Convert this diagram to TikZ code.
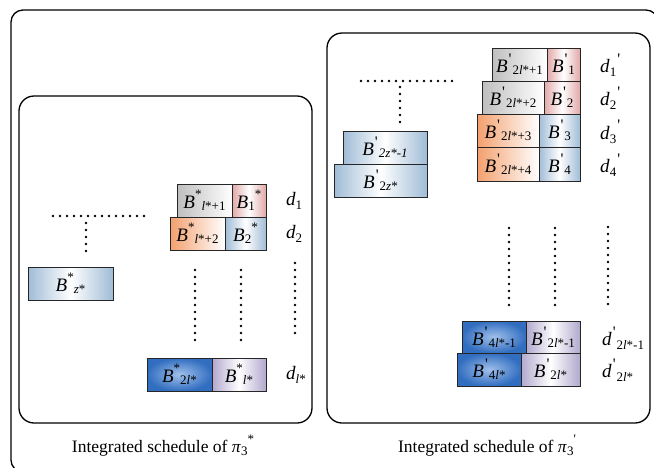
\documentclass[tikz,border=0pt]{standalone}
\usepackage{fontspec}
\setmainfont{Liberation Serif}
\definecolor{cgray}{RGB}{190,190,190}
\definecolor{cpink}{RGB}{226,168,168}
\definecolor{corange}{RGB}{243,160,110}
\definecolor{cblue}{RGB}{160,188,214}
\definecolor{cdeep}{RGB}{50,110,192}
\definecolor{cdeepin}{RGB}{160,192,235}
\definecolor{clav}{RGB}{178,168,205}
\newcommand{\mysp}[1]{\raisebox{0.5em}{\fontsize{13}{13}\selectfont #1}}
\newcommand{\mysb}[1]{\raisebox{-0.12em}{\fontsize{13}{13}\selectfont #1}}
\newcommand{\dsb}[1]{\raisebox{-0.22em}{\fontsize{13}{13}\selectfont #1}}
\newcommand{\pr}{\kern1pt\raisebox{-0.1em}{\fontsize{16}{16}\selectfont\textquotesingle}\kern1pt}
\newcommand{\bx}[7]{\node[bx,#6,minimum width={#4pt-#2pt},minimum height={#5pt-#3pt}] (#1) at ({(#2+#4)/2},{(#3+#5)/2}) {#7};}
\tikzset{
  bx/.style={draw=black!85, line width=0.8pt, inner sep=0pt, outer sep=0pt, font=\fontsize{19}{20}\selectfont},
  sgray/.style={left color=cgray, right color=white},
  spink/.style={left color=cpink, right color=cpink, middle color=white},
  sorange/.style={left color=corange, right color=white},
  sblue/.style={left color=cblue, right color=cblue, middle color=white},
  sdeep/.style={inner color=cdeepin, outer color=cdeep},
  slav/.style={left color=clav, right color=clav, middle color=white},
  panel/.style={draw=black, line width=1.3pt, rounded corners=15pt},
  dotline/.style={line width=2.8pt, line cap=round, dash pattern=on 0pt off 7pt},
  dlab/.style={anchor=west, inner sep=0pt, font=\fontsize{19}{20}\selectfont},
  captext/.style={anchor=base, inner sep=0pt, font=\fontsize{17.5}{18}\selectfont}
}
\begin{document}
\begin{tikzpicture}[x=1pt,y=-1pt]
\useasboundingbox (0,0) rectangle (654,467);
\begin{scope}
\clip (0,0) rectangle (654,467);
\draw[line width=1.3pt, rounded corners=12pt] (11,10) rectangle (658,472);
\end{scope}
\draw[panel] (19,96) rectangle (312,423);
\draw[panel] (327,33) rectangle (650,423);
% left panel boxes
\bx{la1}{177}{184}{232}{217}{sgray}{\textit{B}\mysp{*}\mysb{\textit{l}*+1}}
\bx{lb1}{232}{184}{266}{217}{spink}{\textit{B}\mysb{1}\mysp{*}}
\bx{la2}{170}{217}{225}{250}{sorange}{\textit{B}\mysp{*}\mysb{\textit{l}*+2}}
\bx{lb2}{225}{217}{266}{250}{sblue}{\textit{B}\mysb{2}\mysp{*}}
\bx{lz}{28}{267}{113}{300}{sblue}{\textit{B}\mysp{*}\mysb{\textit{z}*}}
\bx{lan}{147}{358}{212}{391}{sdeep}{\textit{B}\mysp{*}\mysb{2\textit{l}*}}
\bx{lbn}{212}{358}{266}{391}{slav}{\textit{B}\mysp{*}\mysb{\textit{l}*}}
\node[dlab] (d1) at (286,201) {\textit{d}\dsb{1}};
\node[dlab] (d2) at (286,234) {\textit{d}\dsb{2}};
\node[dlab] (dn) at (286,375) {\textit{d}\dsb{\textit{l}*}};
% left dots
\coordinate (lh1) at (53,216); \coordinate (lh2) at (148,216);
\coordinate (lv1) at (86,223); \coordinate (lv2) at (86,252);
\draw[dotline] (lh1) -- (lh2);
\draw[dotline] (lv1) -- (lv2);
\coordinate (lc1a) at (195,270); \coordinate (lc1b) at (195,347);
\coordinate (lc2a) at (241,270); \coordinate (lc2b) at (241,347);
\coordinate (lc3a) at (295,263); \coordinate (lc3b) at (295,340);
\draw[dotline] (lc1a) -- (lc1b);
\draw[dotline] (lc2a) -- (lc2b);
\draw[dotline] (lc3a) -- (lc3b);
% right panel boxes
\bx{ra1}{492}{48}{547}{81}{sgray}{\textit{B}\mysp{\pr}\mysb{2\textit{l}*+1}}
\bx{rb1}{547}{48}{580}{81}{spink}{\textit{B}\mysp{\pr}\mysb{1}}
\bx{ra2}{482}{81}{544}{114}{sgray}{\textit{B}\mysp{\pr}\mysb{2\textit{l}*+2}}
\bx{rb2}{544}{81}{580}{114}{spink}{\textit{B}\mysp{\pr}\mysb{2}}
\bx{ra3}{477}{114}{539}{147}{sorange}{\textit{B}\mysp{\pr}\mysb{2\textit{l}*+3}}
\bx{rb3}{539}{114}{580}{147}{sblue}{\textit{B}\mysp{\pr}\mysb{3}}
\bx{ra4}{477}{147}{539}{181}{sorange}{\textit{B}\mysp{\pr}\mysb{2\textit{l}*+4}}
\bx{rb4}{539}{147}{580}{181}{sblue}{\textit{B}\mysp{\pr}\mysb{4}}
\bx{rz1}{343}{131}{427}{164}{sblue}{\textit{B}\mysp{\pr}\mysb{\textit{2z*-1}}}
\bx{rz2}{334}{164}{427}{197}{sblue}{\textit{B}\mysp{\pr}\mysb{2\textit{z}*}}
\bx{ran1}{462}{321}{526}{353}{sdeep}{\textit{B}\mysp{\pr}\mysb{4\textit{l}*-1}}
\bx{rbn1}{526}{321}{580}{353}{slav}{\textit{B}\mysp{\pr}\mysb{2\textit{l}*-1}}
\bx{ran2}{457}{353}{521}{386}{sdeep}{\textit{B}\mysp{\pr}\mysb{4\textit{l}*}}
\bx{rbn2}{521}{353}{580}{386}{slav}{\textit{B}\mysp{\pr}\mysb{2\textit{l}*}}
\node[dlab] (rd1) at (600,65) {\textit{d}\dsb{1}\mysp{\pr}};
\node[dlab] (rd2) at (600,98) {\textit{d}\dsb{2}\mysp{\pr}};
\node[dlab] (rd3) at (600,132) {\textit{d}\dsb{3}\mysp{\pr}};
\node[dlab] (rd4) at (600,165) {\textit{d}\dsb{4}\mysp{\pr}};
\node[dlab] (rdn1) at (602,338) {\textit{d}\mysp{\pr}\dsb{2\textit{l}*-1}};
\node[dlab] (rdn2) at (602,370) {\textit{d}\mysp{\pr}\dsb{2\textit{l}*}};
% right dots
\coordinate (rh1) at (361,81); \coordinate (rh2) at (455,81);
\coordinate (rv1) at (400,87); \coordinate (rv2) at (400,123);
\draw[dotline] (rh1) -- (rh2);
\draw[dotline] (rv1) -- (rv2);
\coordinate (rc1a) at (509,228); \coordinate (rc1b) at (509,308);
\coordinate (rc2a) at (555,228); \coordinate (rc2b) at (555,308);
\coordinate (rc3a) at (608,227); \coordinate (rc3b) at (608,306);
\draw[dotline] (rc1a) -- (rc1b);
\draw[dotline] (rc2a) -- (rc2b);
\draw[dotline] (rc3a) -- (rc3b);
% captions
\node[captext] (capl) at (163,452) {Integrated schedule of \textit{π}\dsb{3}\mysp{*}};
\node[captext] (capr) at (487,452) {Integrated schedule of \textit{π}\dsb{3}\mysp{\textquotesingle}};
\end{tikzpicture}
\end{document}
